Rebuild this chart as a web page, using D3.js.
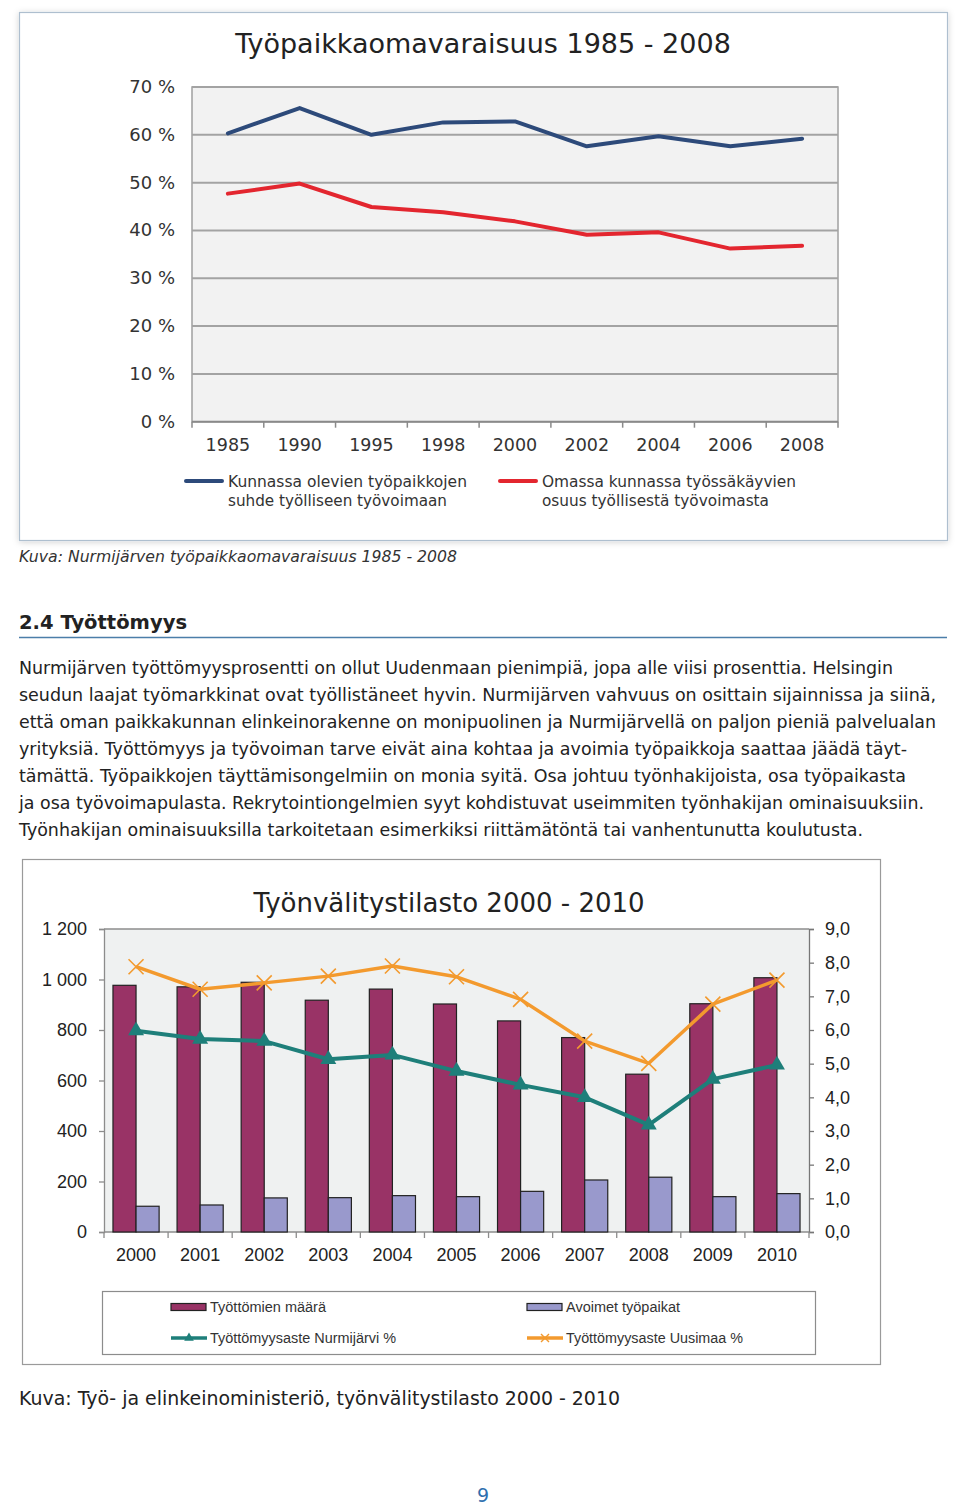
<!DOCTYPE html>
<html>
<head>
<meta charset="utf-8">
<script src="https://cdn.jsdelivr.net/npm/d3@7"></script>
<style>
  html, body { margin: 0; padding: 0; background: #fff; }
  svg { display: block; }
</style>
</head>
<body>
<svg id="page" width="960" height="1510"></svg>
<script>
// ---------- Chart 1 data ----------
const years1 = ["1985","1990","1995","1998","2000","2002","2004","2006","2008"];
const jobRatio = [60.3, 65.6, 60.0, 62.6, 62.8, 57.6, 59.7, 57.6, 59.2];
const ownMunicipalityShare = [47.7, 49.8, 44.9, 43.8, 41.9, 39.1, 39.6, 36.2, 36.8];
const pctTicks = [0, 10, 20, 30, 40, 50, 60, 70];
const title1 = "Työpaikkaomavaraisuus 1985 - 2008";
const legend1 = [
  ["Kunnassa olevien työpaikkojen", "suhde työlliseen työvoimaan"],
  ["Omassa kunnassa työssäkäyvien", "osuus työllisestä työvoimasta"]
];

// ---------- Chart 2 data ----------
const years2 = ["2000","2001","2002","2003","2004","2005","2006","2007","2008","2009","2010"];
const unemployed = [977, 971, 989, 918, 962, 903, 836, 770, 625, 904, 1007];
const vacancies = [102, 107, 135, 136, 144, 140, 161, 206, 217, 140, 152];
const rateNurmijarvi = [5.98, 5.73, 5.67, 5.13, 5.26, 4.78, 4.37, 4.0, 3.18, 4.54, 4.96];
const rateUusimaa = [7.88, 7.21, 7.40, 7.60, 7.90, 7.58, 6.91, 5.67, 5.01, 6.77, 7.48];
const leftTicks = [0, 200, 400, 600, 800, 1000, 1200];
const rightTicks = [0, 1, 2, 3, 4, 5, 6, 7, 8, 9];
const title2 = "Työnvälitystilasto 2000 - 2010";
const legend2 = ["Työttömien määrä", "Avoimet työpaikat", "Työttömyysaste Nurmijärvi %", "Työttömyysaste Uusimaa %"];

// ---------- Page text ----------
const caption1 = "Kuva: Nurmijärven työpaikkaomavaraisuus 1985 - 2008";
const heading = "2.4 Työttömyys";
const bodyLines = [
  "Nurmijärven työttömyysprosentti on ollut Uudenmaan pienimpiä, jopa alle viisi prosenttia. Helsingin",
  "seudun laajat työmarkkinat ovat työllistäneet hyvin. Nurmijärven vahvuus on osittain sijainnissa ja siinä,",
  "että oman paikkakunnan elinkeinorakenne on monipuolinen ja Nurmijärvellä on paljon pieniä palvelualan",
  "yrityksiä. Työttömyys ja työvoiman tarve eivät aina kohtaa ja avoimia työpaikkoja saattaa jäädä täyt-",
  "tämättä. Työpaikkojen täyttämisongelmiin on monia syitä. Osa johtuu työnhakijoista, osa työpaikasta",
  "ja osa työvoimapulasta. Rekrytointiongelmien syyt kohdistuvat useimmiten työnhakijan ominaisuuksiin.",
  "Työnhakijan ominaisuuksilla tarkoitetaan esimerkiksi riittämätöntä tai vanhentunutta koulutusta."
];
const bodyWidths = [874, 917, 917, 888, 887, 905, 844];
const caption2 = "Kuva: Työ- ja elinkeinoministeriö, työnvälitystilasto 2000 - 2010";
const pageNumber = "9";

const VERD = "'DejaVu Sans', Verdana, sans-serif";
const ARIAL = "'Liberation Sans', Arial, sans-serif";

const svg = d3.select("#page");
const defs = svg.append("defs");
const f = defs.append("filter").attr("id", "shadow").attr("x", "-5%").attr("y", "-5%").attr("width", "110%").attr("height", "110%");
f.append("feDropShadow").attr("dx", 0).attr("dy", 1).attr("stdDeviation", 3).attr("flood-color", "#000").attr("flood-opacity", 0.18);

// =================== Chart 1 ===================
const c1 = svg.append("g");
c1.append("rect").attr("x", 19.5).attr("y", 12.5).attr("width", 928).attr("height", 528)
  .attr("fill", "#fff").attr("stroke", "#aebfcf").attr("stroke-width", 1.2).attr("filter", "url(#shadow)");

c1.append("text").attr("x", 483).attr("y", 53).attr("text-anchor", "middle")
  .attr("font-family", VERD).attr("font-size", 27).attr("fill", "#222").text(title1);

const x1 = d3.scaleBand().domain(years1).range([192, 838]).padding(0);
const y1 = d3.scaleLinear().domain([0, 70]).range([421.7, 87]);

c1.append("rect").attr("x", 192).attr("y", y1(70)).attr("width", 838 - 192).attr("height", y1(0) - y1(70))
  .attr("fill", "#f2f2f2").attr("stroke", "#a0a0a0").attr("stroke-width", 1.5);

c1.selectAll("line.grid").data(pctTicks.filter(d => d > 0)).join("line")
  .attr("x1", 192).attr("x2", 838).attr("y1", d => y1(d)).attr("y2", d => y1(d))
  .attr("stroke", "#a3a3a3").attr("stroke-width", 2);

c1.selectAll("text.ylab").data(pctTicks).join("text")
  .attr("x", 175).attr("y", d => y1(d) + 6).attr("text-anchor", "end")
  .attr("font-family", VERD).attr("font-size", 18).attr("fill", "#333")
  .text(d => d + " %");

// x axis
c1.append("line").attr("x1", 192).attr("x2", 838).attr("y1", y1(0)).attr("y2", y1(0))
  .attr("stroke", "#8a8a8a").attr("stroke-width", 2);
const bounds1 = years1.map(d => x1(d)).concat([838]);
c1.selectAll("line.xt").data(bounds1).join("line")
  .attr("x1", d => d).attr("x2", d => d).attr("y1", y1(0)).attr("y2", y1(0) + 6)
  .attr("stroke", "#8a8a8a").attr("stroke-width", 1.5);
c1.selectAll("text.xlab").data(years1).join("text")
  .attr("x", d => x1(d) + x1.bandwidth() / 2).attr("y", 451).attr("text-anchor", "middle")
  .attr("font-family", VERD).attr("font-size", 17.5).attr("fill", "#333").text(d => d);

const line1 = d3.line().x((d, i) => x1(years1[i]) + x1.bandwidth() / 2).y(d => y1(d));
c1.append("path").datum(jobRatio).attr("d", line1).attr("fill", "none")
  .attr("stroke", "#2d4a7a").attr("stroke-width", 4).attr("stroke-linejoin", "round").attr("stroke-linecap", "round");
c1.append("path").datum(ownMunicipalityShare).attr("d", line1).attr("fill", "none")
  .attr("stroke", "#e3262f").attr("stroke-width", 4).attr("stroke-linejoin", "round").attr("stroke-linecap", "round");

// legend 1
const leg1 = [
  { x: 186, color: "#2d4a7a", lines: legend1[0], w: [239, 219] },
  { x: 500, color: "#e3262f", lines: legend1[1], w: [254, 227] }
];
leg1.forEach(L => {
  c1.append("line").attr("x1", L.x).attr("x2", L.x + 36).attr("y1", 481).attr("y2", 481)
    .attr("stroke", L.color).attr("stroke-width", 4).attr("stroke-linecap", "round");
  L.lines.forEach((t, i) => {
    c1.append("text").attr("x", L.x + 42).attr("y", 487 + i * 19)
      .attr("font-family", VERD).attr("font-size", 15.5).attr("fill", "#333")
      .attr("textLength", L.w[i]).attr("lengthAdjust", "spacingAndGlyphs").text(t);
  });
});

// =================== Page text ===================
svg.append("text").attr("x", 19).attr("y", 562).attr("font-family", VERD).attr("font-size", 15.5)
  .attr("font-style", "italic").attr("fill", "#333")
  .attr("textLength", 438).attr("lengthAdjust", "spacingAndGlyphs").text(caption1);

svg.append("text").attr("x", 19).attr("y", 629).attr("font-family", VERD).attr("font-size", 20)
  .attr("font-weight", "bold").attr("fill", "#222")
  .attr("textLength", 168).attr("lengthAdjust", "spacingAndGlyphs").text(heading);
svg.append("line").attr("x1", 19).attr("x2", 947).attr("y1", 637.5).attr("y2", 637.5)
  .attr("stroke", "#4b7ea9").attr("stroke-width", 1.5);

svg.selectAll("text.body").data(bodyLines).join("text")
  .attr("x", 19).attr("y", (d, i) => 674 + i * 27)
  .attr("font-family", VERD).attr("font-size", 17).attr("fill", "#222")
  .attr("textLength", (d, i) => bodyWidths[i]).attr("lengthAdjust", "spacingAndGlyphs")
  .text(d => d);

// =================== Chart 2 ===================
const c2 = svg.append("g");
c2.append("rect").attr("x", 22.5).attr("y", 859.5).attr("width", 858).attr("height", 505)
  .attr("fill", "#fff").attr("stroke", "#9a9a9a").attr("stroke-width", 1.2);

c2.append("text").attr("x", 449).attr("y", 912).attr("text-anchor", "middle")
  .attr("font-family", VERD).attr("font-size", 26).attr("fill", "#222").text(title2);

const px0 = 104, px1 = 809, py0 = 1232, py1 = 929;
const x2 = d3.scaleBand().domain(years2).range([px0, px1]).paddingInner(0.28).paddingOuter(0.14);
const xs = d3.scaleBand().domain(["u", "v"]).range([0, x2.bandwidth()]);
const yL = d3.scaleLinear().domain([0, 1200]).range([py0, py1]);
const yR = d3.scaleLinear().domain([0, 9]).range([py0, py1]);

c2.append("rect").attr("x", px0).attr("y", py1).attr("width", px1 - px0).attr("height", py0 - py1)
  .attr("fill", "#eff1f1");
c2.append("line").attr("x1", px0).attr("x2", px1).attr("y1", py1).attr("y2", py1).attr("stroke", "#8c8c8c").attr("stroke-width", 1.3);

// left axis
const axL = c2.append("g").attr("transform", `translate(${px0},0)`)
  .call(d3.axisLeft(yL).tickValues(leftTicks).tickSize(5).tickPadding(12)
    .tickFormat(d => d3.format(",")(d).replace(/,/g, " ")));
axL.select(".domain").attr("stroke", "#8c8c8c").attr("stroke-width", 1.3);
axL.selectAll(".tick line").attr("stroke", "#8c8c8c").attr("stroke-width", 1.3);
axL.selectAll(".tick text").attr("font-family", ARIAL).attr("font-size", 18).attr("fill", "#222");

// right axis
const axR = c2.append("g").attr("transform", `translate(${px1},0)`)
  .call(d3.axisRight(yR).tickValues(rightTicks).tickSize(5).tickPadding(11)
    .tickFormat(d => d3.format(".1f")(d).replace(".", ",")));
axR.select(".domain").attr("stroke", "#777").attr("stroke-width", 1.3);
axR.selectAll(".tick line").attr("stroke", "#777").attr("stroke-width", 1.3);
axR.selectAll(".tick text").attr("font-family", ARIAL).attr("font-size", 18).attr("fill", "#222");

// bottom axis
c2.append("line").attr("x1", px0).attr("x2", px1).attr("y1", py0).attr("y2", py0).attr("stroke", "#8c8c8c").attr("stroke-width", 1.3);
const step2 = x2.step();
const bounds2 = years2.map(d => x2(d) - x2.paddingInner() * step2 / 2).concat([px1]);
c2.selectAll("line.xt2").data(bounds2).join("line")
  .attr("x1", d => d).attr("x2", d => d).attr("y1", py0).attr("y2", py0 + 6)
  .attr("stroke", "#8c8c8c").attr("stroke-width", 1.3);
c2.selectAll("text.xl2").data(years2).join("text")
  .attr("x", d => x2(d) + x2.bandwidth() / 2).attr("y", 1261).attr("text-anchor", "middle")
  .attr("font-family", ARIAL).attr("font-size", 18).attr("fill", "#222").text(d => d);

// bars
const barColors = { u: "#993366", v: "#9999cc" };
const barData = years2.flatMap((yr, i) => [
  { yr, key: "u", v: unemployed[i] },
  { yr, key: "v", v: vacancies[i] }
]);
c2.selectAll("rect.bar").data(barData).join("rect")
  .attr("x", d => x2(d.yr) + xs(d.key)).attr("width", xs.bandwidth())
  .attr("y", d => yL(d.v)).attr("height", d => py0 - yL(d.v))
  .attr("fill", d => barColors[d.key]).attr("stroke", "#222").attr("stroke-width", 1.2);

// lines
const cx2 = (i) => x2(years2[i]) + x2.bandwidth() / 2;
const line2 = d3.line().x((d, i) => cx2(i)).y(d => yR(d));
c2.append("path").datum(rateUusimaa).attr("d", line2).attr("fill", "none")
  .attr("stroke", "#f39a2e").attr("stroke-width", 3.5).attr("stroke-linejoin", "round");
c2.selectAll("path.xm").data(rateUusimaa).join("path")
  .attr("transform", (d, i) => `translate(${cx2(i)},${yR(d)})`)
  .attr("d", "M-7.5,-7.5L7.5,7.5M-7.5,7.5L7.5,-7.5").attr("stroke", "#f39a2e").attr("stroke-width", 1.6).attr("fill", "none");

c2.append("path").datum(rateNurmijarvi).attr("d", line2).attr("fill", "none")
  .attr("stroke", "#1e7f7a").attr("stroke-width", 4).attr("stroke-linejoin", "round");
const tri = d3.symbol().type(d3.symbolTriangle).size(110);
c2.selectAll("path.tm").data(rateNurmijarvi).join("path")
  .attr("transform", (d, i) => `translate(${cx2(i)},${yR(d)})`)
  .attr("d", tri).attr("fill", "#1e7f7a");

// legend 2
c2.append("rect").attr("x", 102.5).attr("y", 1291.5).attr("width", 713).attr("height", 63)
  .attr("fill", "#fff").attr("stroke", "#8c8c8c").attr("stroke-width", 1.2);
const leg2 = [
  { x: 171, y: 1307, type: "bar", color: "#993366", text: legend2[0], w: 116 },
  { x: 527, y: 1307, type: "bar", color: "#9999cc", text: legend2[1], w: 114 },
  { x: 171, y: 1338, type: "tri", color: "#1e7f7a", text: legend2[2], w: 186 },
  { x: 527, y: 1338, type: "x", color: "#f39a2e", text: legend2[3], w: 177 }
];
leg2.forEach(L => {
  if (L.type === "bar") {
    c2.append("rect").attr("x", L.x).attr("y", L.y - 3.5).attr("width", 35).attr("height", 7)
      .attr("fill", L.color).attr("stroke", "#222").attr("stroke-width", 1.2);
  } else {
    c2.append("line").attr("x1", L.x).attr("x2", L.x + 36).attr("y1", L.y).attr("y2", L.y)
      .attr("stroke", L.color).attr("stroke-width", 3.5);
    if (L.type === "tri") {
      c2.append("path").attr("transform", `translate(${L.x + 18},${L.y})`)
        .attr("d", d3.symbol().type(d3.symbolTriangle).size(40)).attr("fill", L.color);
    } else {
      c2.append("path").attr("transform", `translate(${L.x + 18},${L.y})`)
        .attr("d", "M-4,-4L4,4M-4,4L4,-4").attr("stroke", L.color).attr("stroke-width", 1.4);
    }
  }
  c2.append("text").attr("x", L.x + 39).attr("y", L.y + 5)
    .attr("font-family", ARIAL).attr("font-size", 14).attr("fill", "#333")
    .attr("textLength", L.w).attr("lengthAdjust", "spacingAndGlyphs").text(L.text);
});

// caption 2 and page number
svg.append("text").attr("x", 19).attr("y", 1405).attr("font-family", VERD).attr("font-size", 19)
  .attr("fill", "#222").attr("textLength", 601).attr("lengthAdjust", "spacingAndGlyphs").text(caption2);
svg.append("text").attr("x", 483).attr("y", 1502).attr("text-anchor", "middle").attr("font-family", VERD)
  .attr("font-size", 19).attr("fill", "#2f6fae").text(pageNumber);
</script>
</body>
</html>
